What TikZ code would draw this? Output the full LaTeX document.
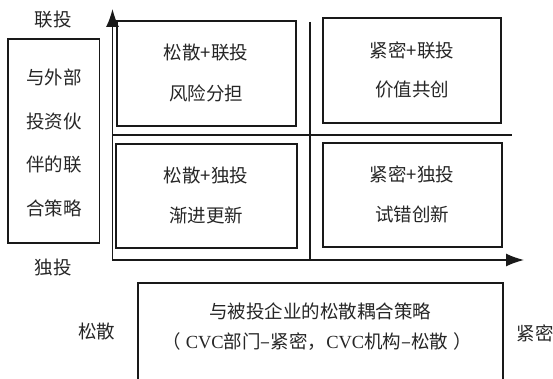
\documentclass[tikz,border=0pt]{standalone}
\usepackage{fontspec}
\setmainfont{Liberation Serif}
\newfontfamily\cjk{Noto Sans CJK SC}
\newfontfamily\latn{Liberation Serif}
\usetikzlibrary{arrows.meta}
\begin{document}
\begin{tikzpicture}[x=1pt,y=-1pt,
  txt/.style={font=\cjk\fontsize{18.5}{22}\selectfont, text=black!85, inner sep=0pt},
  quad/.style={draw=black!90, line width=2pt},
  sidebox/.style={draw=black!90, line width=1.6pt},
  axis/.style={draw=black!90, line width=1.5pt},
  divider/.style={draw=black!90, line width=1.4pt},
  tip/.style={{Latex[length=18pt,width=13pt]}-{Latex[length=18pt,width=13pt]}}]
\useasboundingbox (0,0) rectangle (553,379);

% quadrant boxes
\node[quad, minimum width=179, minimum height=105] (tl) at (206.5,73.5) {};
\node[quad, minimum width=178, minimum height=105] (tr) at (412,70.5) {};
\node[quad, minimum width=181, minimum height=104] (bl) at (206.5,196) {};
\node[quad, minimum width=179, minimum height=104] (br) at (412.5,195) {};
\node[sidebox, minimum width=91.5, minimum height=204] (lb) at (53.75,141) {};

% axes
\coordinate (O) at (112.5,260);
\coordinate (ytip) at (112.5,9);
\coordinate (xtip) at (524,260);
\draw[axis, tip] (ytip) -- (O) -- (xtip);

% dividers
\coordinate (vtop) at (310,22);
\coordinate (vbot) at (310,260);
\coordinate (hl) at (112.5,135);
\coordinate (hr) at (512,135);
\draw[divider] (vtop) -- (vbot);
\draw[divider] (hl) -- (hr);

% bottom box (cut by the page edge)
\coordinate (bb1) at (138,380);
\coordinate (bb2) at (138,283);
\coordinate (bb3) at (503,283);
\coordinate (bb4) at (503,380);
\draw[quad] (bb1) -- (bb2) -- (bb3) -- (bb4);

% texts
\node[txt] (tl1) at (206,53) {松散+联投};
\node[txt] (tl2) at (206,93) {风险分担};
\node[txt] (tr1) at (412,50) {紧密+联投};
\node[txt] (tr2) at (412,90) {价值共创};
\node[txt] (bl1) at (206,175) {松散+独投};
\node[txt] (bl2) at (206,215) {渐进更新};
\node[txt] (br1) at (412,174) {紧密+独投};
\node[txt] (br2) at (412,214) {试错创新};

\node[txt] (lb1) at (54,77) {与外部};
\node[txt] (lb2) at (54,121) {投资伙};
\node[txt] (lb3) at (54,165) {伴的联};
\node[txt] (lb4) at (54,208) {合策略};

\node[txt] (ylab1) at (53,20) {联投};
\node[txt] (ylab2) at (53,267) {独投};
\node[txt] (xlab1) at (96.5,331) {松散};
\node[txt] (xlab2) at (535,333) {紧密};

\node[txt] (bt1) at (320,311) {与被投企业的松散耦合策略};
\node[txt] (bt2) at (317,342) {（\hspace{5pt}{\latn CVC}部门–紧密，{\latn CVC}机构–松散\hspace{5pt}）};
\end{tikzpicture}
\end{document}
